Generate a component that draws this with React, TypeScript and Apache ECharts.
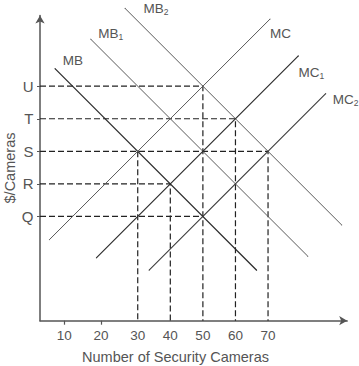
import React, { useEffect, useRef } from "react";
import * as echarts from "echarts";

// ---- data ----
const quantityTicks = [30, 40, 50, 60, 70];
const lowQuantityTicks = [10, 20];
const priceLevels = [32, 42, 52, 62, 72];
const priceLetters = ["Q", "R", "S", "T", "U"];

const mbLine = [[4.6, 77.4], [66.5, 15.5]];
const mb1Line = [[15.6, 86.4], [82.2, 19.8]];
const mb2Line = [[26.1, 95.9], [92.6, 29.4]];
const mcLine = [[2.9, 24.9], [70.6, 92.6]];
const mc1Line = [[17.3, 19.3], [79.3, 81.3]];
const mc2Line = [[33.5, 15.5], [87.7, 69.7]];

const guideU = [[0, 72], [50, 72], [50, 0]];
const guideT = [[0, 62], [60, 62], [60, 0]];
const guideS = [[0, 52], [70, 52], [70, 0]];
const guideS30 = [[30, 52], [30, 0]];
const guideR = [[0, 42], [40, 42], [40, 0]];
const guideQ = [[0, 32], [50, 32]];

const FONT = "'Liberation Sans', Arial, Helvetica, sans-serif";
const TEXT = "#555";

type Curve = {
  name: string;
  sub: string;
  data: number[][];
  labelAt: number;
  offset: number[];
  color: string;
  width: number;
};

const curves: Curve[] = [
  { name: "MB", sub: "", data: mbLine, labelAt: 0, offset: [18, -8], color: "#2a2a2a", width: 1.2 },
  { name: "MB", sub: "1", data: mb1Line, labelAt: 0, offset: [20, -6], color: "#5a5a5a", width: 1 },
  { name: "MB", sub: "2", data: mb2Line, labelAt: 0, offset: [31, 0], color: "#5a5a5a", width: 1 },
  { name: "MC", sub: "", data: mcLine, labelAt: 1, offset: [10.5, 14], color: "#5a5a5a", width: 1 },
  { name: "MC", sub: "1", data: mc1Line, labelAt: 1, offset: [13, 17], color: "#2a2a2a", width: 1.2 },
  { name: "MC", sub: "2", data: mc2Line, labelAt: 1, offset: [20, 5.5], color: "#3a3a3a", width: 1.1 },
];

const guides = [guideU, guideT, guideS, guideS30, guideR, guideQ];

function buildOption(): any {
  const curveSeries = curves.map((c) => ({
    type: "line",
    xAxisIndex: 0,
    yAxisIndex: 0,
    clip: false,
    silent: true,
    symbol: "circle",
    symbolSize: 1,
    showSymbol: true,
    itemStyle: { color: c.color },
    lineStyle: { color: c.color, width: c.width },
    label: { show: false },
    data: c.data.map((p, i) =>
      i === c.labelAt
        ? {
            value: p,
            label: {
              show: true,
              position: "inside",
              offset: c.offset,
              formatter: c.sub ? `{m|${c.name}}{s|${c.sub}}` : `{m|${c.name}}`,
              rich: {
                m: { fontSize: 13.5, color: TEXT, fontFamily: FONT, lineHeight: 16 },
                s: { fontSize: 8.5, color: TEXT, fontFamily: FONT, lineHeight: 8, verticalAlign: "bottom" },
              },
            },
          }
        : { value: p }
    ),
  }));

  const guideSeries = guides.map((g) => ({
    type: "line",
    xAxisIndex: 0,
    yAxisIndex: 0,
    clip: false,
    silent: true,
    symbol: "none",
    lineStyle: { color: "#222", width: 1.2, type: [6, 3] },
    data: g,
  }));

  return {
    animation: false,
    backgroundColor: "#fff",
    grid: { left: 40, top: 15.5, right: 11.8, bottom: 45.3, outerBoundsMode: "none" },
    xAxis: [
      {
        type: "value",
        position: "bottom",
        min: 0,
        max: 94.3,
        axisLine: {
          show: true,
          onZero: false,
          symbol: ["none", "arrow"],
          symbolSize: [7, 8],
          lineStyle: { color: "#555", width: 1.5 },
        },
        axisTick: { show: false },
        axisLabel: {
          customValues: quantityTicks,
          color: TEXT,
          fontSize: 13.5,
          fontFamily: FONT,
          margin: 8,
        },
        splitLine: { show: false },
      },
      {
        type: "value",
        position: "bottom",
        min: 3.38,
        max: 87.08,
        axisLine: { show: false, onZero: false },
        axisTick: {
          show: true,
          customValues: lowQuantityTicks,
          length: 4,
          lineStyle: { color: "#555", width: 1.2 },
        },
        axisLabel: {
          customValues: lowQuantityTicks,
          color: TEXT,
          fontSize: 13.5,
          fontFamily: FONT,
          margin: 8,
        },
        splitLine: { show: false },
      },
    ],
    yAxis: {
      type: "value",
      min: 0,
      max: 93.7,
      axisLine: {
        show: true,
        onZero: false,
        symbol: ["none", "arrow"],
        symbolSize: [7, 8],
        lineStyle: { color: "#555", width: 1.5 },
      },
      axisTick: {
        show: true,
        customValues: priceLevels,
        length: 3,
        lineStyle: { color: "#555", width: 1 },
      },
      axisLabel: {
        customValues: priceLevels,
        formatter: (v: number) => {
          const i = priceLevels.indexOf(Math.round(v));
          return i >= 0 ? priceLetters[i] : "";
        },
        color: TEXT,
        fontSize: 15,
        fontFamily: FONT,
        margin: 6.5,
      },
      splitLine: { show: false },
    },
    graphic: [
      {
        type: "text",
        x: 175.5,
        y: 356.5,
        silent: true,
        style: {
          text: "Number of Security Cameras",
          fill: TEXT,
          font: `14.5px ${FONT}`,
          align: "center",
          verticalAlign: "middle",
          textAlign: "center",
          textVerticalAlign: "middle",
        },
      },
      {
        type: "text",
        x: 10,
        y: 168,
        rotation: Math.PI / 2,
        silent: true,
        style: {
          text: "$/Cameras",
          fill: TEXT,
          font: `14.5px ${FONT}`,
          align: "center",
          verticalAlign: "middle",
          textAlign: "center",
          textVerticalAlign: "middle",
        },
      },
    ],
    series: [...guideSeries, ...curveSeries],
  };
}

export default function App() {
  const ref = useRef<HTMLDivElement>(null);
  useEffect(() => {
    if (!ref.current) return;
    const chart = echarts.init(ref.current, null, { renderer: "svg" });
    chart.setOption(buildOption());
    return () => chart.dispose();
  }, []);
  return (
    <div
      ref={ref}
      style={{ position: "fixed", left: 0, top: 0, width: 359, height: 366 }}
    />
  );
}
